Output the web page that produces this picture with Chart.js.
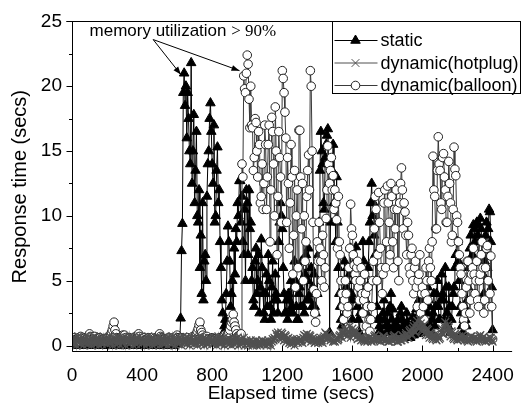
<!DOCTYPE html>
<html lang="en">
<head>
<meta charset="UTF-8">
<title>Response time vs elapsed time</title>
<script src="https://cdn.jsdelivr.net/npm/chart.js"></script>
<style>
  body { margin: 0; background: #fff; }
  #wrap { width: 526px; height: 405px; }
</style>
</head>
<body>
<div id="wrap"><canvas id="rtChart" width="526" height="405"></canvas></div>
<script>
// samples every 5 s, 0..2400 (one row = 100 s)
const SAMPLE_STEP = 5;

const staticRt = [
  0.1,0.2,0.2,0.0,0.0,0.1,0.1,0.2,0.3,0.1,0.1,0.0,0.0,0.2,0.2,0.1,0.1,0.3,0.2,0.1,
  0.0,0.2,0.1,0.0,0.2,0.1,0.1,0.3,0.3,0.0,0.0,0.1,0.1,0.2,0.2,0.0,0.1,0.2,0.0,0.1,
  0.2,0.0,0.1,0.2,0.0,0.1,0.3,0.1,0.1,0.0,0.2,0.1,0.0,0.2,0.1,0.3,0.2,0.0,0.1,0.2,
  0.1,0.2,0.0,0.1,0.2,0.0,0.1,0.3,0.3,0.1,0.1,0.2,0.0,0.1,0.2,0.0,0.1,0.3,0.2,0.1,
  0.0,0.1,0.2,0.0,0.1,0.2,0.3,0.1,0.1,0.0,0.0,0.2,0.2,0.1,0.1,0.3,0.0,0.1,0.2,0.0,
  0.1,0.2,0.3,0.1,0.0,0.2,0.1,0.0,0.2,0.3,0.1,0.2,0.0,0.1,0.2,0.0,0.1,0.2,0.3,0.2,
  0.2,0.1,0.4,0.3,2.1,7.3,9.4,19.5,21.0,18.5,20.0,16.0,19.5,17.5,15.0,14.0,21.8,12.5,15.0,17.8,
  11.0,13.5,16.5,10.0,9.5,12.0,6.0,8.5,4.0,11.0,3.5,6.5,7.0,5.0,11.5,14.0,15.0,17.5,18.7,16.5,
  14.0,12.5,17.0,9.5,10.0,13.5,15.3,11.0,12.0,8.0,6.0,3.5,2.5,1.0,1.5,2.0,4.0,6.5,9.2,8.0,
  6.5,3.0,4.0,5.0,2.0,7.5,5.5,9.0,8.0,11.0,10.0,12.7,12.7,9.5,11.5,8.0,7.0,10.5,5.0,12.0,
  11.0,7.0,12.0,9.0,9.5,5.0,6.0,3.5,3.0,6.5,7.5,4.0,5.0,7.0,2.5,4.5,8.2,6.0,4.0,2.5,
  2.0,4.0,5.5,3.0,7.0,5.0,3.0,2.0,4.5,6.5,2.5,3.5,5.5,4.0,3.5,2.5,8.0,9.5,11.0,10.0,
  9.0,6.0,4.0,2.5,2.5,3.5,2.0,4.0,3.5,2.5,5.0,3.0,2.5,4.5,6.5,5.0,3.0,2.0,2.0,4.0,
  4.5,3.0,6.5,5.0,3.0,2.5,5.5,7.0,3.5,5.0,7.5,3.5,4.0,6.0,3.0,4.5,5.5,3.0,2.5,4.0,
  4.0,7.0,9.5,13.5,16.5,15.0,14.0,11.0,10.5,14.5,15.5,16.2,16.7,14.0,1.0,9.5,12.0,13.5,15.5,11.0,
  11.0,8.0,13.0,9.5,6.0,4.0,3.0,2.0,1.5,3.0,4.0,6.5,2.5,4.5,6.0,3.0,3.5,5.5,7.5,4.0,
  2.0,3.5,5.0,6.5,7.6,5.0,3.0,2.0,1.0,2.5,4.5,6.0,8.0,6.5,5.5,3.5,2.5,4.5,6.0,8.0,
  9.5,11.0,12.5,10.0,11.0,8.5,7.0,5.0,3.0,2.0,1.0,1.5,2.0,1.0,0.8,2.5,3.5,2.0,1.5,1.0,
  2.5,1.5,1.0,3.0,4.0,2.0,2.8,1.5,1.2,0.6,0.8,1.5,2.0,1.2,1.0,2.5,3.0,2.0,1.5,0.9,
  0.8,1.5,2.5,1.8,1.0,0.7,0.6,1.2,1.5,2.2,0.8,1.0,2.0,2.8,1.2,0.9,3.5,2.0,1.0,1.8,
  2.5,1.5,3.5,4.5,1.5,2.5,4.5,3.5,3.0,1.5,1.0,2.0,2.5,4.0,1.5,3.0,4.0,5.0,3.0,2.0,
  2.0,3.5,5.5,4.0,3.5,2.0,6.0,4.5,2.5,1.5,4.5,3.0,1.0,2.0,3.0,4.0,4.5,6.0,7.0,8.0,
  8.0,6.5,5.0,3.0,2.5,1.5,1.0,2.0,3.0,2.0,1.5,3.5,4.5,6.0,7.5,8.5,6.0,7.0,9.3,9.0,
  8.0,9.3,9.5,8.5,6.5,8.0,9.8,9.0,7.0,5.5,4.0,6.5,8.5,9.5,6.0,9.0,10.5,10.3,8.0,4.5,
  1.2
];

const hotplugRt = [
  0.3,0.1,0.5,0.2,0.6,0.0,0.4,0.7,0.2,0.5,0.1,0.6,0.3,0.0,0.5,0.2,0.7,0.3,0.1,0.4,
  0.6,0.2,0.0,0.5,0.3,0.7,0.1,0.4,0.6,0.2,0.5,0.0,0.3,0.6,0.1,0.4,0.7,0.2,0.5,0.3,
  0.1,0.5,0.3,0.7,0.2,0.4,0.0,0.6,0.3,0.5,0.1,0.7,0.4,0.2,0.6,0.0,0.3,0.5,0.2,0.6,
  0.4,0.0,0.6,0.3,0.5,0.1,0.7,0.2,0.4,0.6,0.0,0.3,0.5,0.1,0.6,0.4,0.2,0.7,0.3,0.1,
  0.5,0.2,0.4,0.0,0.6,0.3,0.1,0.7,0.4,0.2,0.5,0.6,0.0,0.3,0.5,0.1,0.4,0.6,0.2,0.3,
  0.0,0.6,0.3,0.5,0.1,0.4,0.7,0.2,0.5,0.0,0.3,0.6,0.2,0.4,0.1,0.7,0.3,0.5,0.0,0.4,
  0.2,0.5,0.1,0.6,0.3,0.0,0.4,0.7,0.2,0.5,0.3,0.1,0.6,0.4,0.0,0.5,0.2,0.6,0.3,0.1,
  0.4,0.6,0.2,0.0,0.5,0.3,0.7,0.1,0.4,0.2,0.6,0.0,0.3,0.5,0.1,0.4,0.6,0.2,0.5,0.3,
  0.1,0.4,0.6,0.2,0.5,0.0,0.3,0.7,0.2,0.4,0.1,0.5,0.3,0.6,0.0,0.4,0.2,0.5,0.3,0.1,
  0.5,0.2,0.0,0.4,0.6,0.1,0.3,0.5,0.2,0.6,0.0,0.4,0.1,0.3,0.5,0.2,0.6,0.0,0.3,0.4,
  0.2,0.0,0.3,0.1,0.4,0.2,0.0,0.3,0.1,0.2,0.4,0.0,0.2,0.3,0.1,0.0,0.2,0.4,0.1,0.3,
  0.1,0.3,0.0,0.2,0.4,0.1,0.2,0.0,0.3,0.5,0.4,0.6,0.5,0.9,0.7,1.0,0.8,0.5,0.7,1.0,
  0.9,0.6,0.4,0.8,0.7,0.3,0.5,0.6,0.2,0.4,0.1,0.3,0.5,0.2,0.0,0.4,0.3,0.5,0.2,0.4,
  0.3,0.5,0.4,0.2,0.6,0.8,0.5,0.7,0.9,0.4,0.6,0.8,0.7,0.3,0.5,0.6,0.4,0.2,0.3,0.5,
  0.4,0.2,0.5,0.3,0.6,0.4,0.2,0.6,0.7,1.0,0.9,0.6,0.5,0.8,0.7,0.4,0.6,0.5,0.3,0.4,
  0.3,0.5,0.6,0.4,0.5,0.7,0.8,1.1,0.6,0.9,1.0,1.4,1.2,0.9,0.7,1.1,1.0,1.5,0.6,0.9,
  1.3,1.0,0.8,1.2,1.0,0.7,0.5,0.8,0.9,0.6,0.4,0.7,0.6,0.4,0.3,0.6,0.5,0.3,0.4,0.6,
  0.6,0.4,0.3,0.5,0.5,0.7,0.8,0.5,0.4,0.6,0.6,0.4,0.3,0.5,0.5,0.7,0.7,0.4,0.4,0.5,
  0.5,0.3,0.3,0.6,0.6,0.4,0.4,0.7,0.8,0.5,0.5,0.3,0.3,0.6,0.6,0.4,0.4,0.8,0.7,0.5,
  0.5,0.8,0.9,0.6,0.6,1.1,1.2,0.9,0.8,1.3,1.5,1.1,1.0,1.6,1.9,1.4,1.3,2.0,1.7,1.2,
  1.1,1.5,1.6,1.0,0.8,1.3,1.2,0.8,0.6,1.0,0.9,0.6,0.5,0.8,0.7,0.5,0.4,0.7,0.8,0.5,
  0.6,1.0,1.3,0.9,0.9,1.5,1.8,1.2,1.1,1.6,1.4,1.0,0.7,1.1,1.0,0.6,0.5,0.9,0.8,0.5,
  0.4,0.6,0.7,0.5,0.5,0.7,0.8,0.6,0.4,0.6,0.6,0.4,0.3,0.5,0.5,0.7,0.7,0.5,0.4,0.6,
  0.6,0.4,0.3,0.5,0.5,0.7,0.8,0.5,0.4,0.6,0.7,0.4,0.3,0.5,0.5,0.4,0.4,0.6,0.6,0.4,
  0.3
];

const balloonRt = [
  0.4,0.5,0.6,0.4,0.3,0.5,0.5,0.6,0.4,0.3,0.7,0.5,0.3,0.4,0.5,0.6,0.4,0.5,0.6,0.5,
  0.9,0.7,0.5,0.4,0.4,0.6,0.7,0.5,0.3,0.4,0.5,0.6,0.6,0.4,0.4,0.5,0.5,0.3,0.3,0.5,
  0.6,0.4,0.5,0.6,0.8,1.0,1.2,1.5,1.8,1.2,0.9,0.6,0.5,0.4,0.4,0.6,0.6,0.5,0.8,0.7,
  0.8,0.6,0.5,0.4,0.4,0.5,0.6,0.5,0.3,0.4,0.5,0.6,0.4,0.5,0.6,0.8,0.9,0.7,0.5,0.4,
  0.4,0.5,0.6,0.4,0.3,0.5,0.5,0.6,0.4,0.5,0.6,0.4,0.3,0.4,0.5,0.6,0.4,0.5,0.7,0.6,
  0.9,0.7,0.6,0.5,0.4,0.5,0.5,0.4,0.3,0.5,0.6,0.5,0.4,0.3,0.5,0.6,0.3,0.4,0.6,0.7,
  0.8,0.6,0.5,0.4,0.4,0.6,0.6,0.5,0.5,0.4,0.3,0.5,0.6,0.4,0.4,0.5,0.5,0.6,0.7,0.5,
  0.6,0.8,0.9,1.1,1.3,1.6,1.8,1.2,1.0,0.8,0.6,0.5,0.4,0.6,0.7,0.5,0.5,0.4,0.3,0.5,
  0.6,0.5,0.4,0.5,0.5,0.4,0.3,0.5,0.6,0.4,0.4,0.6,0.5,0.7,0.8,0.6,0.6,0.8,0.9,1.0,
  1.2,1.5,1.8,2.0,2.4,1.8,1.5,1.2,0.9,0.7,0.6,0.8,0.8,0.9,14.0,13.0,20.8,19.8,19.5,21.0,
  22.4,21.7,19.0,16.8,20.0,17.0,16.8,13.5,14.5,17.5,17.2,15.0,13.0,16.5,15.5,11.0,11.5,14.0,10.5,12.5,
  17.0,15.5,10.5,13.0,15.5,17.0,8.0,12.0,17.6,16.5,14.0,10.0,18.4,15.0,7.0,11.5,16.5,14.5,13.0,9.5,
  21.2,20.6,19.5,18.0,16.0,9.5,14.5,12.5,7.5,11.0,15.5,13.0,5.5,8.5,13.5,4.5,10.0,12.0,6.0,16.6,
  16.6,13.0,9.0,12.5,5.0,10.0,6.5,8.0,11.5,13.5,14.7,12.0,21.2,20.0,15.0,9.5,4.3,2.5,1.8,4.0,
  8.0,6.5,9.5,7.5,6.5,5.0,8.5,7.0,4.5,6.0,9.8,12.0,15.4,14.0,12.5,13.5,14.5,12.0,13.1,10.5,
  12.0,11.0,9.7,7.5,11.5,8.0,7.0,5.0,4.0,3.0,2.0,3.5,5.0,4.0,2.5,3.0,6.0,7.5,10.9,9.0,
  8.5,7.0,6.2,5.5,5.0,6.0,6.5,4.5,3.5,5.0,6.0,4.0,2.5,3.5,5.5,4.0,1.5,3.0,4.5,2.0,
  1.1,2.0,3.0,5.0,6.5,9.0,11.5,10.5,5.0,7.0,11.8,9.5,7.5,6.0,4.0,5.5,11.0,12.0,6.0,8.0,
  12.3,11.0,9.5,7.0,12.5,11.5,8.0,6.0,10.5,9.0,12.0,10.5,6.5,5.0,11.0,12.5,13.7,12.0,9.0,11.0,
  10.3,8.5,7.0,9.5,8.5,6.0,5.5,7.0,7.5,5.0,4.0,6.0,6.5,4.5,3.0,5.0,5.5,7.0,2.5,4.0,
  4.5,3.0,2.0,4.0,6.0,5.0,3.5,6.5,7.5,6.0,5.0,8.0,14.6,12.0,11.5,9.0,9.0,13.5,16.1,14.0,
  13.5,11.0,10.5,14.5,14.8,13.0,12.0,9.5,9.5,11.5,14.2,12.5,11.0,8.0,8.5,10.5,15.3,13.6,13.1,10.0,
  9.5,8.0,7.0,6.0,5.5,4.0,3.0,2.0,1.5,2.5,4.5,6.5,6.5,5.0,2.5,3.5,5.5,6.0,7.5,5.5,
  4.0,5.0,6.5,3.5,3.0,5.0,5.5,7.0,8.0,6.0,2.5,3.5,6.0,7.5,7.7,5.0,3.0,4.0,6.9,3.0,
  0.5
];

const seriesNames = ['static', 'dynamic(hotplug)', 'dynamic(balloon)'];
const xMajorTicks = [0, 400, 800, 1200, 1600, 2000, 2400];
const xMinorTicks = [200, 600, 1000, 1400, 1800, 2200];
const yMajorTicks = [0, 5, 10, 15, 20, 25];
const yMinorTicks = [2.5, 7.5, 12.5, 17.5, 22.5];

const noteText = 'memory utilization';
const noteTail = '> 90%';
const noteAt = [100, 23.86];
const arrowFrom = [463, 23.6];
const arrowTips = [[621, 20.9], [956, 21.2]];

const SANS = '"Liberation Sans", Arial, sans-serif';
const SERIF = '"Liberation Serif", "Times New Roman", serif';

function toPoints(vals) {
  return vals.map((v, i) => ({ x: i * SAMPLE_STEP, y: v }));
}

const datasets = [
  {
    label: seriesNames[0], data: toPoints(staticRt), order: 3,
    borderColor: '#000', borderWidth: 1, pointStyle: 'triangle', pointRadius: 5.5,
    pointBackgroundColor: '#000', pointBorderColor: '#000', pointBorderWidth: 1
  },
  {
    label: seriesNames[1], data: toPoints(hotplugRt), order: 1,
    borderColor: '#505050', borderWidth: 1.6, pointStyle: 'crossRot', pointRadius: 5.5,
    pointBackgroundColor: '#505050', pointBorderColor: '#505050', pointBorderWidth: 1.3
  },
  {
    label: seriesNames[2], data: toPoints(balloonRt), order: 2,
    borderColor: '#3a3a3a', borderWidth: 1, pointStyle: 'circle', pointRadius: 4.3,
    pointBackgroundColor: '#fff', pointBorderColor: '#222', pointBorderWidth: 1
  }
];

function drawMarker(ctx, style, cx, cy, r, fill, stroke) {
  ctx.beginPath();
  if (style === 'triangle') {
    ctx.moveTo(cx, cy - r);
    ctx.lineTo(cx + r * 0.866, cy + r * 0.5);
    ctx.lineTo(cx - r * 0.866, cy + r * 0.5);
    ctx.closePath();
    ctx.fillStyle = fill; ctx.fill();
    ctx.strokeStyle = stroke; ctx.stroke();
  } else if (style === 'crossRot') {
    const d = r * 0.707;
    ctx.moveTo(cx - d, cy - d); ctx.lineTo(cx + d, cy + d);
    ctx.moveTo(cx + d, cy - d); ctx.lineTo(cx - d, cy + d);
    ctx.strokeStyle = stroke; ctx.stroke();
  } else {
    ctx.arc(cx, cy, r, 0, Math.PI * 2);
    ctx.fillStyle = fill; ctx.fill();
    ctx.strokeStyle = stroke; ctx.stroke();
  }
}

const framePlugin = {
  id: 'frame',
  afterDraw(chart) {
    const { ctx, chartArea: a, scales: { x, y } } = chart;
    ctx.save();
    ctx.strokeStyle = '#000';
    ctx.lineWidth = 1;
    const L = Math.round(a.left) + 0.5, B = Math.round(a.bottom) - 0.5, T = Math.round(a.top) + 0.5;
    ctx.beginPath();
    ctx.moveTo(L, T); ctx.lineTo(L, B);
    ctx.moveTo(L, B); ctx.lineTo(a.right + 2, B);
    ctx.moveTo(L - 6, T); ctx.lineTo(a.right + 2, T);
    xMajorTicks.forEach(v => { const p = Math.round(x.getPixelForValue(v)) + 0.5; ctx.moveTo(p, B); ctx.lineTo(p, B - 6); });
    xMinorTicks.forEach(v => { const p = Math.round(x.getPixelForValue(v)) + 0.5; ctx.moveTo(p, B); ctx.lineTo(p, B - 3.5); });
    yMajorTicks.forEach(v => { const p = Math.round(y.getPixelForValue(v)) + 0.5; ctx.moveTo(L, p); ctx.lineTo(L - 6, p); });
    yMinorTicks.forEach(v => { const p = Math.round(y.getPixelForValue(v)) + 0.5; ctx.moveTo(L, p); ctx.lineTo(L - 3.5, p); });
    ctx.stroke();

    // annotation
    ctx.fillStyle = '#000';
    ctx.textBaseline = 'alphabetic';
    ctx.textAlign = 'left';
    const tx = x.getPixelForValue(noteAt[0]), ty = y.getPixelForValue(noteAt[1]);
    ctx.font = '17px ' + SANS;
    ctx.fillText(noteText, tx, ty);
    const w = ctx.measureText(noteText + ' ').width;
    ctx.font = '17px ' + SERIF;
    ctx.fillText(noteTail, tx + w, ty);

    const ox = x.getPixelForValue(arrowFrom[0]), oy = y.getPixelForValue(arrowFrom[1]);
    arrowTips.forEach(([vx, vy]) => {
      const px = x.getPixelForValue(vx), py = y.getPixelForValue(vy);
      const ang = Math.atan2(py - oy, px - ox);
      ctx.beginPath(); ctx.moveTo(ox, oy); ctx.lineTo(px, py); ctx.stroke();
      ctx.beginPath();
      ctx.moveTo(px, py);
      ctx.lineTo(px - 8 * Math.cos(ang) + 3 * Math.sin(ang), py - 8 * Math.sin(ang) - 3 * Math.cos(ang));
      ctx.lineTo(px - 8 * Math.cos(ang) - 3 * Math.sin(ang), py - 8 * Math.sin(ang) + 3 * Math.cos(ang));
      ctx.closePath(); ctx.fill();
    });

    // legend box
    const bx = 332.5, by = T, bw = 188, bh = 72;
    ctx.fillStyle = '#fff';
    ctx.fillRect(bx, by, bw, bh);
    ctx.strokeStyle = '#000';
    ctx.lineWidth = 1;
    ctx.strokeRect(bx, by, bw, bh);
    ctx.font = '18px ' + SANS;
    ctx.textBaseline = 'middle';
    chart.data.datasets.forEach((ds, i) => {
      const ry = by + 19 + i * 22.5;
      ctx.lineWidth = 1;
      ctx.beginPath();
      ctx.strokeStyle = ds.borderColor;
      ctx.moveTo(bx + 2, ry); ctx.lineTo(bx + 45, ry);
      ctx.stroke();
      drawMarker(ctx, ds.pointStyle, bx + 23, ry, ds.pointRadius, ds.pointBackgroundColor, ds.pointBorderColor);
      ctx.fillStyle = '#000';
      ctx.fillText(ds.label, bx + 48, ry + 1);
    });
    ctx.restore();
  }
};

new Chart(document.getElementById('rtChart').getContext('2d'), {
  type: 'line',
  data: { datasets },
  options: {
    responsive: false,
    animation: false,
    events: [],
    layout: { padding: { top: 18, right: 6, left: 0, bottom: 0 } },
    elements: { line: { tension: 0 } },
    plugins: { legend: { display: false }, tooltip: { enabled: false } },
    scales: {
      x: {
        type: 'linear', min: 0, max: 2500,
        afterBuildTicks: s => { s.ticks = xMajorTicks.map(v => ({ value: v })); },
        afterFit: s => { s.height = 53; },
        grid: { display: false, drawTicks: false },
        border: { display: false },
        ticks: { color: '#000', font: { family: SANS, size: 19 }, padding: 12, maxRotation: 0, callback: v => String(v) },
        title: { display: true, text: 'Elapsed time (secs)', color: '#000', font: { family: SANS, size: 19 }, padding: { top: 0, bottom: 0 } }
      },
      y: {
        min: -0.5, max: 25,
        afterBuildTicks: s => { s.ticks = yMajorTicks.map(v => ({ value: v })); },
        afterFit: s => { s.width = 72; },
        grid: { display: false, drawTicks: false },
        border: { display: false },
        ticks: { color: '#000', font: { family: SANS, size: 19 }, padding: 10, callback: v => String(v) },
        title: { display: true, text: 'Response time (secs)', color: '#000', font: { family: SANS, size: 20 }, padding: { top: 8, bottom: 0 } }
      }
    }
  },
  plugins: [framePlugin]
});
</script>
</body>
</html>
